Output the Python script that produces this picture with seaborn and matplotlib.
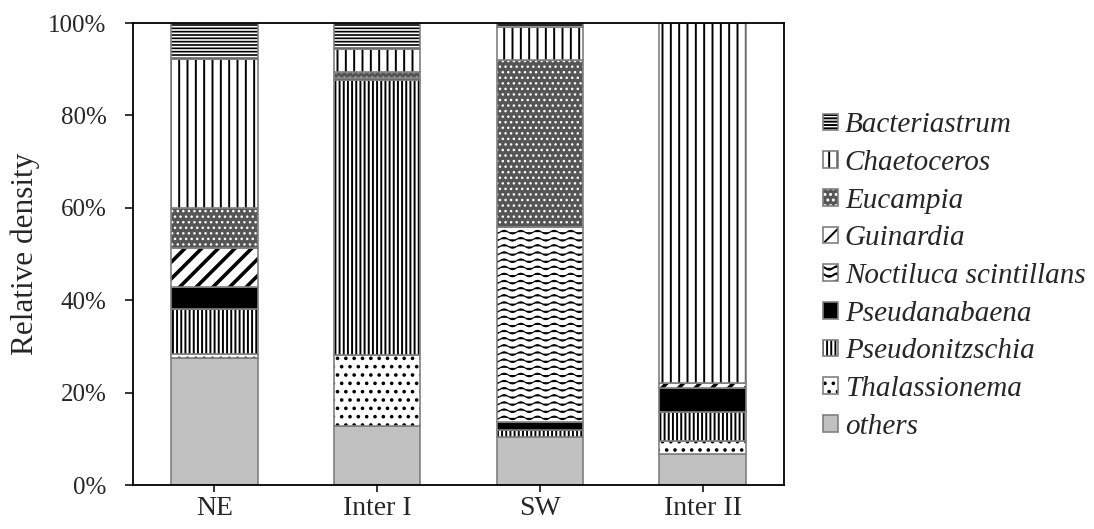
import numpy as np
import pandas as pd
import matplotlib
matplotlib.use("Agg")
import matplotlib.pyplot as plt
import matplotlib.hatch as mhatch
from matplotlib.path import Path
from matplotlib.patches import Patch
from matplotlib.ticker import PercentFormatter
import seaborn as sns

# Relative density (%) of each taxon per monsoon season
seasons = ["NE", "Inter I", "SW", "Inter II"]
others = [27.4, 12.7, 10.4, 6.7]
thalassionema = [0.9, 15.4, 0.0, 2.9]
pseudonitzschia = [9.9, 59.5, 1.6, 6.1]
pseudanabaena = [4.6, 0.4, 1.7, 5.2]
noctiluca = [0.0, 0.0, 42.1, 0.0]
guinardia = [8.6, 0.0, 0.0, 1.1]
eucampia = [8.5, 1.3, 36.1, 0.0]
chaetoceros = [32.4, 5.1, 7.2, 78.0]
bacteriastrum = [7.7, 5.6, 0.9, 0.0]


class WaveHatch(mhatch.HatchPatternBase):
    """Rows of sine waves, selected with '*' in a hatch string."""

    def __init__(self, hatch, density):
        self.num_rows = 7 * hatch.count("*")
        self.seg = 48
        self.num_vertices = self.num_rows * (self.seg + 1)

    def set_vertices_and_codes(self, vertices, codes):
        xs = np.linspace(0.0, 1.0, self.seg + 1)
        for i in range(self.num_rows):
            y0 = (i + 0.5) / self.num_rows
            ys = y0 + 0.018 * np.sin(2 * np.pi * 6 * xs)
            sl = slice(i * (self.seg + 1), (i + 1) * (self.seg + 1))
            vertices[sl, 0] = xs
            vertices[sl, 1] = ys
            codes[sl] = Path.LINETO
            codes[i * (self.seg + 1)] = Path.MOVETO


mhatch._hatch_types = [t for t in mhatch._hatch_types if t is not mhatch.Stars] + [WaveHatch]

sns.set_style("ticks")
plt.rcParams["font.family"] = ["Liberation Serif", "DejaVu Serif"]
plt.rcParams["hatch.linewidth"] = 1.4

TICK_FS = 18
XTICK_FS = 20
LABEL_FS = 22.5
LEGEND_FS = 21
OUTLINE = "#808080"

# (label, values, face colour, hatch, hatch colour, hatch width) bottom to top
layers = [
    ("others", others, "#C0C0C0", None, "black", 1.4),
    ("Thalassionema", thalassionema, "white", "..", "black", 1.4),
    ("Pseudonitzschia", pseudonitzschia, "white", "||||", "black", 1.4),
    ("Pseudanabaena", pseudanabaena, "black", None, "black", 1.4),
    ("Noctiluca scintillans", noctiluca, "white", "**", "black", 0.8),
    ("Guinardia", guinardia, "white", "//", "black", 2.6),
    ("Eucampia", eucampia, "#555555", "...", "white", 1.0),
    ("Chaetoceros", chaetoceros, "white", "||", "black", 1.4),
    ("Bacteriastrum", bacteriastrum, "white", "-----", "black", 1.2),
]


def set_hatch_width(patch, lw):
    if hasattr(patch, "set_hatch_linewidth"):
        patch.set_hatch_linewidth(lw)


fig = plt.figure(figsize=(10.94, 5.29), dpi=100)
ax = fig.add_axes([133 / 1094, 1 - 485 / 529, 651 / 1094, 462 / 529])

bottom = np.zeros(len(seasons))
handles = []
for label, vals, fc, hatch, hc, hlw in layers:
    df = pd.DataFrame({"season": seasons, "share": vals})
    n_before = len(ax.patches)
    with plt.rc_context({"hatch.linewidth": hlw}):
        sns.barplot(data=df, x="season", y="share", order=seasons, color=fc,
                    saturation=1, hatch=hatch, edgecolor=hc, linewidth=0,
                    width=0.53, bottom=bottom.copy(), errorbar=None, ax=ax)
        for p in ax.patches[n_before:]:
            set_hatch_width(p, hlw)
        sns.barplot(data=df, x="season", y="share", order=seasons, color=OUTLINE,
                    fill=False, linewidth=1.2, width=0.53, bottom=bottom.copy(),
                    errorbar=None, ax=ax)
        hp = Patch(facecolor=fc, hatch=hatch, edgecolor=hc, linewidth=0)
        set_hatch_width(hp, min(hlw, 1.0))
    bottom += np.asarray(vals)
    handles.append((hp, Patch(facecolor="none", edgecolor=OUTLINE, linewidth=1.2)))

ax.set_xlim(-0.5, len(seasons) - 0.5)
ax.set_ylim(0, 100)
ax.set_yticks(np.arange(0, 101, 20))
ax.yaxis.set_major_formatter(PercentFormatter(decimals=0))
ax.set_xlabel("")
ax.set_ylabel("Relative density", fontsize=LABEL_FS, labelpad=6)
ax.tick_params(axis="y", direction="out", length=6, width=1.3, pad=13, labelsize=TICK_FS)
ax.tick_params(axis="x", direction="out", length=5, width=1.3, pad=3, labelsize=XTICK_FS)
for s in ax.spines.values():
    s.set_visible(True)
    s.set_color("black")
    s.set_linewidth(1.3)

labels = [l[0] for l in layers]
leg = ax.legend(handles[::-1], labels[::-1], loc="center left",
                bbox_to_anchor=(823 / 1094, 1 - 276 / 529),
                bbox_transform=fig.transFigure, frameon=False,
                prop={"family": "Liberation Serif", "style": "italic", "size": LEGEND_FS},
                handlelength=0.5, handleheight=0.5, handletextpad=0.25,
                labelspacing=0.4, borderpad=0, borderaxespad=0)

fig.savefig("out.png", dpi=100)
